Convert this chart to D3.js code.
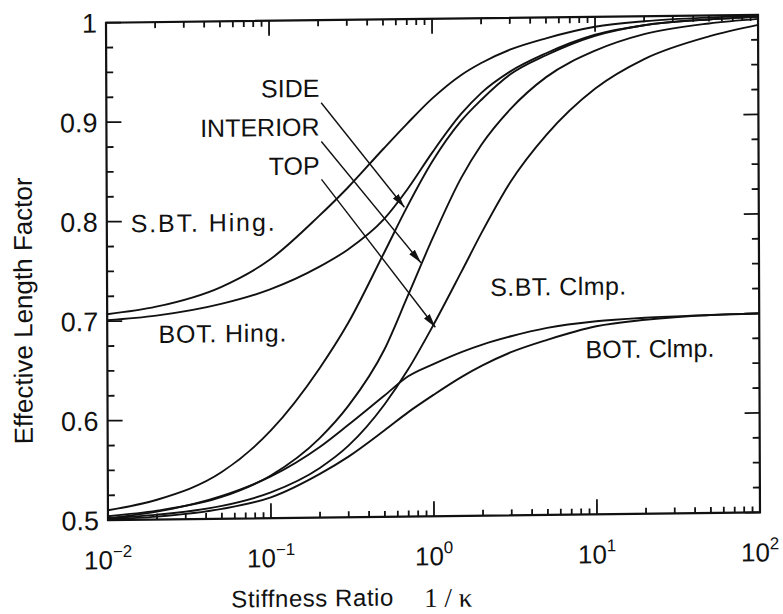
<!DOCTYPE html>
<html>
<head>
<meta charset="utf-8">
<script src="https://cdn.jsdelivr.net/npm/d3@7"></script>
<style>
    html, body { margin: 0; padding: 0; background: #fff; }
    svg { display: block; }
    text { font-family: "Liberation Sans", Arial, Helvetica, sans-serif; fill: #111; }
</style>
</head>
<body>
<div id="chart"></div>
<script>
// Stiffness ratio 1/kappa (log axis)
const stiffness = [0.01, 0.02, 0.05, 0.1, 0.2, 0.3, 0.5, 0.7, 1, 1.5, 2, 3, 5, 10, 20, 50, 100];

// Effective length factor per case
const sbtHing  = [0.707, 0.714, 0.733, 0.760, 0.803, 0.831, 0.870, 0.895, 0.920, 0.943, 0.955, 0.968, 0.979, 0.990, 0.995, 0.998, 0.999];
const botHing  = [0.701, 0.705, 0.716, 0.730, 0.752, 0.769, 0.799, 0.829, 0.866, 0.904, 0.925, 0.946, 0.964, 0.982, 0.991, 0.996, 0.998];
const side     = [0.510, 0.520, 0.547, 0.588, 0.650, 0.695, 0.765, 0.812, 0.857, 0.897, 0.918, 0.943, 0.962, 0.981, 0.991, 0.996, 0.998];
const interior = [0.504, 0.509, 0.522, 0.543, 0.580, 0.612, 0.668, 0.722, 0.780, 0.840, 0.873, 0.908, 0.940, 0.966, 0.982, 0.992, 0.996];
const topCol   = [0.502, 0.505, 0.513, 0.526, 0.550, 0.572, 0.613, 0.648, 0.692, 0.746, 0.785, 0.835, 0.882, 0.928, 0.957, 0.979, 0.990];
const sbtClmp  = [0.502, 0.508, 0.523, 0.542, 0.571, 0.593, 0.622, 0.641, 0.653, 0.665, 0.672, 0.680, 0.688, 0.694, 0.697, 0.699, 0.700];
const botClmp  = [0.501, 0.503, 0.510, 0.521, 0.544, 0.561, 0.587, 0.605, 0.622, 0.640, 0.651, 0.664, 0.676, 0.689, 0.695, 0.699, 0.700];

// Axis ticks
const xMajor = [0.01, 0.1, 1, 10, 100];
const xExponents = ["\u22122", "\u22121", "0", "1", "2"];
const yMajor = [0.5, 0.6, 0.7, 0.8, 0.9, 1];
const yLabels = ["0.5", "0.6", "0.7", "0.8", "0.9", "1"];

// Curve labels (data coordinates)
const curveLabels = ["S.BT. Hing.", "BOT. Hing.", "S.BT. Clmp.", "BOT. Clmp."];
const curveLabelX = [0.014, 0.0206, 2.24, 8.57];
const curveLabelY = [0.789, 0.6775, 0.7207, 0.657];
const curveLabelLen = [144, 128, 136, 129];

// Arrow callouts
const arrowLabels = ["SIDE", "INTERIOR", "TOP"];
const arrowLabelY = [0.923, 0.884, 0.845];
const arrowFromX = [0.208, 0.208, 0.208];
const arrowFromY = [0.917, 0.878, 0.840];
const arrowToX = [0.67, 0.843, 1.03];
const arrowToY = [0.811, 0.755, 0.690];

const width = 783, height = 614;
const plot = { left: 107, right: 759, top: 18.8, bottom: 516.3 };
const majorLen = 15, minorLen = 6, tickW = 1.8;

const x = d3.scaleLog().domain([0.01, 100]).range([plot.left, plot.right]);
const y = d3.scaleLinear().domain([0.5, 1]).range([plot.bottom, plot.top]);

const svg = d3.select("#chart")
    .append("svg")
    .attr("width", width)
    .attr("height", height);

svg.append("rect").attr("width", width).attr("height", height).attr("fill", "#fff");

svg.append("defs").append("marker")
    .attr("id", "arrow")
    .attr("markerUnits", "userSpaceOnUse")
    .attr("viewBox", "0 -5 14 10")
    .attr("refX", 14)
    .attr("refY", 0)
    .attr("markerWidth", 14)
    .attr("markerHeight", 10)
    .attr("orient", "auto")
    .append("path")
    .attr("d", "M0,-3.6L14,0L0,3.6Z")
    .attr("fill", "#111");

// the scanned figure is slightly tilted
const g = svg.append("g")
    .attr("transform", "translate(433,267.5) matrix(1,-0.012,0.004,1,0,0) translate(-433,-267.5)");

// Minor tick values
const xMinor = [];
[0.01, 0.1, 1, 10].forEach(d => {
    for (let k = 2; k <= 9; k++) xMinor.push(d * k);
});
const yMinor = d3.range(0.525, 1, 0.025).filter(v => Math.abs(v * 10 - Math.round(v * 10)) > 1e-6);

// Tick marks pointing inward on all four sides
const xTicks = xMajor.map(v => [v, majorLen]).concat(xMinor.map(v => [v, minorLen]));
const yTicks = yMajor.map(v => [v, majorLen]).concat(yMinor.map(v => [v, minorLen + 1]));

const tickG = g.append("g").attr("fill", "#111");

tickG.selectAll("rect.xb")
    .data(xTicks)
    .join("rect")
    .attr("class", "xb")
    .attr("x", d => x(d[0]) - tickW / 2)
    .attr("y", d => plot.bottom - d[1])
    .attr("width", tickW)
    .attr("height", d => d[1]);

tickG.selectAll("rect.xt")
    .data(xTicks)
    .join("rect")
    .attr("class", "xt")
    .attr("x", d => x(d[0]) - tickW / 2)
    .attr("y", plot.top)
    .attr("width", tickW)
    .attr("height", d => d[1]);

tickG.selectAll("rect.yl")
    .data(yTicks)
    .join("rect")
    .attr("class", "yl")
    .attr("x", plot.left)
    .attr("y", d => y(d[0]) - tickW / 2)
    .attr("width", d => d[1])
    .attr("height", tickW);

tickG.selectAll("rect.yr")
    .data(yTicks)
    .join("rect")
    .attr("class", "yr")
    .attr("x", d => plot.right - d[1])
    .attr("y", d => y(d[0]) - tickW / 2)
    .attr("width", d => d[1])
    .attr("height", tickW);

// Tick labels
const xLabel = g.append("g")
    .selectAll("text")
    .data(xMajor)
    .join("text")
    .attr("x", d => x(d))
    .attr("y", plot.bottom + 49)
    .attr("text-anchor", "middle")
    .attr("font-size", 26);
xLabel.append("tspan").text("10");
xLabel.append("tspan")
    .attr("dy", -12)
    .attr("font-size", 17)
    .text((d, i) => xExponents[i]);

g.append("g")
    .selectAll("text")
    .data(yMajor)
    .join("text")
    .attr("x", plot.left - 9)
    .attr("y", d => y(d))
    .attr("dy", "0.36em")
    .attr("text-anchor", "end")
    .attr("font-size", 27)
    .text((d, i) => yLabels[i]);

// Frame
g.append("rect")
    .attr("x", plot.left)
    .attr("y", plot.top)
    .attr("width", plot.right - plot.left)
    .attr("height", plot.bottom - plot.top)
    .attr("fill", "none")
    .attr("stroke", "#111")
    .attr("stroke-width", 2.2);

// Curves
const series = [sbtHing, botHing, side, interior, topCol, sbtClmp, botClmp];
const line = d3.line()
    .x((d, i) => x(stiffness[i]))
    .y(d => y(d))
    .curve(d3.curveMonotoneX);

g.append("g")
    .selectAll("path")
    .data(series)
    .join("path")
    .attr("d", line)
    .attr("fill", "none")
    .attr("stroke", "#111")
    .attr("stroke-width", 1.9);

// Curve labels
g.append("g")
    .selectAll("text")
    .data(curveLabels)
    .join("text")
    .attr("x", (d, i) => x(curveLabelX[i]))
    .attr("y", (d, i) => y(curveLabelY[i]))
    .attr("font-size", 25)
    .attr("textLength", (d, i) => curveLabelLen[i])
    .attr("lengthAdjust", "spacing")
    .text(d => d);

// Callouts with arrows
g.append("g")
    .selectAll("line")
    .data(arrowLabels)
    .join("line")
    .attr("x1", (d, i) => x(arrowFromX[i]))
    .attr("y1", (d, i) => y(arrowFromY[i]))
    .attr("x2", (d, i) => x(arrowToX[i]))
    .attr("y2", (d, i) => y(arrowToY[i]))
    .attr("stroke", "#111")
    .attr("stroke-width", 1.4)
    .attr("marker-end", "url(#arrow)");

g.append("g")
    .selectAll("text")
    .data(arrowLabels)
    .join("text")
    .attr("x", x(0.203))
    .attr("y", (d, i) => y(arrowLabelY[i]))
    .attr("text-anchor", "end")
    .attr("font-size", 25)
    .text(d => d);

// Axis titles
g.append("text")
    .attr("transform", "translate(32,306) rotate(-90)")
    .attr("text-anchor", "middle")
    .attr("font-size", 26)
    .text("Effective Length Factor");

g.append("text")
    .attr("x", 230)
    .attr("y", 605)
    .attr("font-size", 24)
    .attr("textLength", 162)
    .attr("lengthAdjust", "spacing")
    .text("Stiffness Ratio");

g.append("text")
    .attr("x", 423)
    .attr("y", 607)
    .attr("font-size", 27)
    .style("font-family", "'Liberation Serif', 'Times New Roman', serif")
    .text("1 / \u03ba");
</script>
</body>
</html>
